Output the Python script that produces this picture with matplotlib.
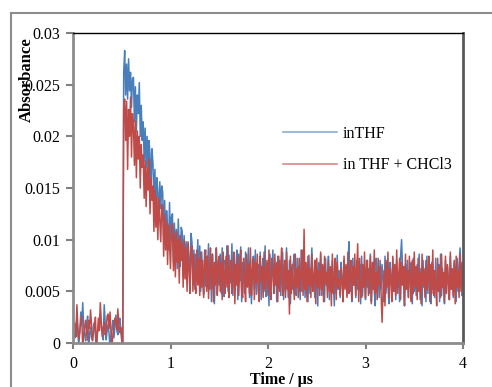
import numpy as np
import matplotlib
matplotlib.use("Agg")
import matplotlib.pyplot as plt
from matplotlib.lines import Line2D

plt.rcParams['font.family'] = ['Liberation Serif', 'DejaVu Serif']

# sampling step of the traces (microseconds)
dt = 0.01
# absorbance values in units of 1e-4
in_thf_e4 = [
    22, 10, 5, 14, 25, 8, -2, 12, 30, 18,
    39, 15, 8, 2, 18, 26, -5, 9, 15, 4,
    6, 16, 20, 7, -8, 11, 12, 24, 28, 14,
    10, 3, 37, 20, 3, 12, 18, 9, -6, 8,
    14, 22, 5, 16, 27, 12, 8, 19, 24, 14,
    2, -10,
    262, 283, 240, 270, 236, 275, 244, 262, 228, 256,
    257, 214, 248, 205, 240, 222, 252, 200, 230, 196,
    214, 176, 208, 170, 200, 160, 196, 182, 150, 188,
    174, 136, 168, 128, 160, 146, 120, 156, 130, 152,
    146, 100, 138, 96, 128, 112, 90, 136, 98, 122,
    125, 78, 116, 84, 110, 72, 120, 90, 74, 112,
    108, 64, 104, 70, 98, 58, 96, 80, 62, 106,
    98, 56, 90, 52, 86, 70, 100, 58, 94, 50,
    88, 62, 47, 90, 55, 84, 70, 96, 52, 78,
    40, 86, 64, 38, 72, 92, 48, 80, 56, 86,
    48, 92, 60, 45, 80, 72, 94, 50, 85, 58,
    66, 96, 46, 82, 54, 70, 90, 42, 86, 60,
    93, 40, 78, 64, 48, 88, 55, 74, 92, 44,
    80, 38, 66, 84, 52, 90, 47, 62, 76, 56,
    88, 42, 70, 82, 50, 94, 45, 58, 78, 36,
    86, 52, 72, 90, 48, 64, 74, 40, 84, 55,
    80, 46, 68, 88, 42, 76, 50, 92, 62, 44,
    80, 38, 72, 52, 78, 86, 56, 46, 82, 60,
    74, 42, 90, 50, 66, 84, 44, 76, 58, 40,
    85, 48, 70, 92, 54, 62, 44, 80, 72, 36,
    78, 52, 86, 46, 68, 74, 40, 82, 56, 64,
    84, 42, 72, 50, 80, 60, 36, 76, 48, 85,
    52, 70, 44, 78, 64, 40, 80, 58, 72, 46,
    74, 98, 50, 62, 40, 82, 56, 72, 44, 80,
    52, 68, 76, 38, 84, 46, 74, 60, 42, 80,
    54, 72, 48, 86, 40, 64, 78, 50, 36, 82,
    58, 70, 44, 80, 52, 76, 62, 40, 84, 48,
    72, 56, 38, 78, 66, 46, 82, 50, 74, 42,
    80, 54, 68, 40, 84, 100, 72, 58, 36, 76,
    52, 80, 44, 70, 62, 78, 38, 82, 50, 66,
    46, 76, 56, 86, 42, 72, 36, 80, 54, 68,
    40, 84, 48, 74, 60, 38, 78, 52, 70, 44,
    82, 50, 64, 76, 40, 86, 46, 72, 56, 38,
    80, 48, 74, 62, 42, 84, 52, 70, 44, 78,
    58, 40, 82, 50, 76, 92, 64, 46, 48,
]
in_thf_chcl3_e4 = [
    8, 20, 18, 6, 37, 15, 4, 11, 20, 26,
    -6, 9, 16, 22, 10, 3, 22, 14, 32, 18,
    2, 10, 14, 25, -4, 8, 24, 12, 39, 20,
    6, 15, 20, 8, 12, 26, 28, 14, 30, 10,
    -3, 9, 16, 24, 22, 13, 33, 18, 10, 15,
    4, -12,
    228, 236, 196, 234, 168, 226, 200, 238, 180, 222,
    212, 172, 215, 160, 205, 178, 200, 150, 192, 170,
    182, 140, 176, 132, 170, 148, 178, 125, 160, 138,
    152, 108, 148, 112, 142, 100, 140, 120, 98, 134,
    130, 84, 124, 90, 118, 76, 114, 96, 72, 110,
    115, 70, 106, 64, 108, 78, 100, 58, 104, 80,
    96, 54, 100, 62, 92, 50, 98, 70, 48, 90,
    94, 50, 86, 60, 48, 90, 56, 82, 46, 88,
    54, 80, 44, 76, 90, 50, 84, 43, 70, 92,
    52, 86, 40, 78, 56, 92, 46, 72, 84, 50,
    78, 42, 88, 60, 48, 84, 54, 94, 44, 70,
    80, 48, 62, 88, 38, 76, 56, 84, 46, 72,
    90, 52, 44, 82, 64, 40, 86, 54, 76, 48,
    92, 46, 70, 82, 42, 78, 58, 86, 50, 40,
    84, 60, 74, 44, 88, 52, 66, 80, 46, 90,
    54, 42, 82, 70, 48, 86, 56, 78, 40, 84,
    50, 74, 92, 46, 62, 80, 44, 88, 52, 70,
    28, 84, 48, 76, 58, 42, 86, 54, 72, 44,
    82, 50, 66, 90, 46, 110, 52, 78, 40, 84,
    56, 72, 44, 86, 50, 64, 80, 38, 82, 54,
    70, 46, 88, 52, 76, 40, 84, 58, 68, 44,
    80, 50, 74, 36, 86, 48, 62, 82, 42, 78,
    54, 62, 46, 72, 60, 40, 84, 52, 76, 44,
    88, 48, 66, 80, 42, 74, 56, 86, 46, 70,
    96, 40, 82, 50, 44, 76, 54, 88, 44, 72,
    80, 46, 64, 84, 38, 78, 52, 90, 48, 68,
    42, 82, 56, 74, 46, 20, 50, 70, 36, 80,
    54, 88, 44, 72, 62, 40, 84, 50, 76, 46,
    90, 48, 66, 82, 42, 78, 56, 74, 36, 86,
    52, 70, 44, 84, 60, 40, 80, 48, 88, 54,
    74, 42, 82, 50, 68, 38, 86, 56, 72, 44,
    80, 52, 64, 84, 40, 76, 48, 90, 46, 70,
    58, 36, 82, 50, 74, 44, 86, 54, 68, 40,
    84, 48, 76, 60, 42, 88, 52, 72, 46, 80,
    38, 84, 54, 70, 44, 86, 50, 78, 52,
]
series_names = ["inTHF", "in THF + CHCl3"]
series_colors = ["#4A7EBB", "#BE4B48"]
x_ticks = [0, 1, 2, 3, 4]
y_ticks = [0, 0.005, 0.01, 0.015, 0.02, 0.025, 0.03]
y_tick_labels = ["0", "0.005", "0.01", "0.015", "0.02", "0.025", "0.03"]

W, H = 492, 387
fig = plt.figure(figsize=(W / 100, H / 100), dpi=100)
L, R, T, B = 73, 463, 33, 343
ax = fig.add_axes([L / W, 1 - B / H, (R - L) / W, (B - T) / H])

for vals, name, col in zip([in_thf_e4, in_thf_chcl3_e4], series_names, series_colors):
    y = np.array(vals) * 1e-4
    t = np.arange(len(y)) * dt
    ax.plot(t, y, color=col, lw=1.1, label=name)

ax.set_xlim(0, 4)
ax.set_ylim(0, 0.03)
ax.set_xticks(x_ticks)
ax.set_xticklabels([str(v) for v in x_ticks])
ax.set_yticks(y_ticks)
ax.set_yticklabels(y_tick_labels)
ax.tick_params(axis='both', labelsize=11.5, colors='#808080', labelcolor='black',
               width=1.5)
ax.tick_params(axis='y', length=5, pad=4)
ax.tick_params(axis='x', length=4, pad=5)

for s in ['left', 'bottom']:
    ax.spines[s].set_color('#8c8c8c')
    ax.spines[s].set_linewidth(2)
ax.spines['top'].set_color('black')
ax.spines['top'].set_linewidth(1)
ax.spines['right'].set_color('#5a5a5a')
ax.spines['right'].set_linewidth(2)

leg = ax.legend(loc='upper left', bbox_to_anchor=(283 / W, 1 - 126 / H),
                bbox_transform=fig.transFigure, frameon=False, fontsize=11.5,
                handlelength=3.4, handletextpad=0.35, labelspacing=0.95,
                borderpad=0, borderaxespad=0)
for ln in leg.get_lines():
    ln.set_alpha(0.7)

fig.text(27 / W, 1 - 80 / H, "Absorbance", rotation=90, ha='center', va='center',
         fontsize=12, fontweight='bold')
fig.text(281 / W, 1 - 380 / H, "Time / μs", ha='center', va='center',
         fontsize=11.5, fontweight='bold')

# outer chart border (cut at the right and bottom edges)
fig.add_artist(Line2D([11 / W, 1.0], [1 - 13 / H, 1 - 13 / H], transform=fig.transFigure,
                      color='#8c8c8c', lw=1.5))
fig.add_artist(Line2D([11 / W, 11 / W], [0.0, 1 - 13 / H], transform=fig.transFigure,
                      color='#8c8c8c', lw=1.5))

fig.savefig("out.png", dpi=100)
